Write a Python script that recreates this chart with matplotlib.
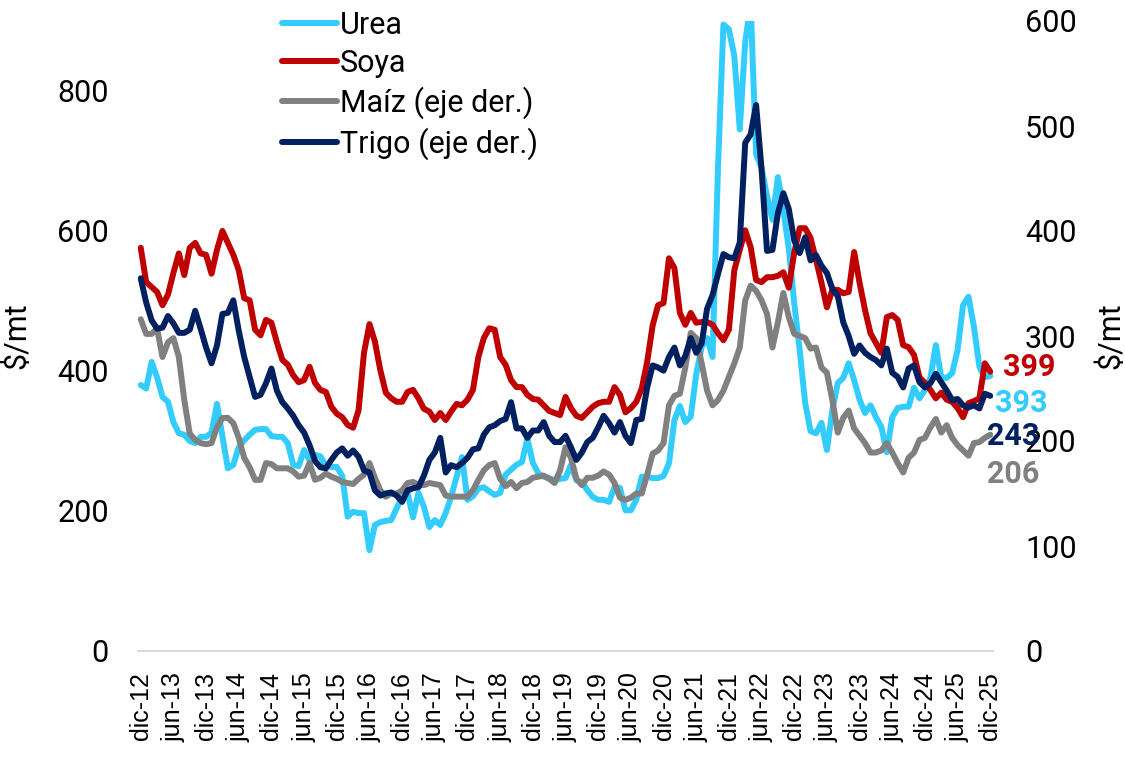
import numpy as np
import matplotlib
matplotlib.use('Agg')
import matplotlib.pyplot as plt

plt.rcParams['font.family'] = ['Roboto', 'DejaVu Sans']

# ── datos mensuales dic-12 .. dic-25 (157 meses) ──────────────
urea = [380, 375, 413, 391, 363, 356, 327, 311, 309, 300, 297, 306, 306, 312, 353, 307,
        261, 266, 291, 301, 309, 316, 317, 317, 307, 306, 306, 297, 266, 264, 287, 272,
        280, 278, 265, 263, 263, 250, 192, 199, 197, 197, 144, 180, 184, 186, 187, 204,
        220, 226, 191, 226, 206, 177, 187, 180, 197, 220, 249, 277, 216, 221, 232, 234,
        228, 223, 226, 252, 259, 266, 270, 303, 269, 254, 249, 247, 244, 246, 247, 266,
        244, 241, 230, 220, 216, 216, 213, 234, 233, 201, 201, 216, 249, 249, 247, 247,
        250, 268, 330, 350, 327, 335, 395, 434, 447, 420, 690, 895, 888, 850, 745, 870,
        925, 710, 690, 650, 616, 677, 630, 575, 497, 430, 355, 314, 311, 326, 287, 344,
        383, 390, 411, 387, 359, 340, 351, 334, 320, 284, 334, 347, 349, 349, 376, 361,
        373, 390, 437, 391, 390, 397, 430, 494, 506, 463, 406, 391, 393]

soya = [576, 527, 520, 513, 494, 509, 540, 568, 537, 576, 583, 568, 566, 539, 573, 600,
        583, 566, 544, 504, 501, 459, 451, 473, 469, 441, 416, 409, 394, 384, 387, 406,
        383, 373, 370, 349, 339, 334, 323, 319, 344, 426, 467, 442, 401, 369, 361, 356,
        356, 370, 373, 361, 346, 342, 330, 340, 330, 342, 353, 351, 359, 373, 420, 447,
        461, 459, 420, 409, 387, 377, 377, 366, 360, 359, 351, 343, 340, 337, 363, 347,
        336, 333, 341, 349, 354, 356, 356, 377, 366, 341, 347, 356, 375, 413, 465, 494,
        497, 561, 547, 483, 466, 483, 469, 470, 470, 466, 454, 444, 459, 544, 573, 601,
        577, 530, 527, 534, 534, 536, 541, 519, 569, 604, 604, 590, 559, 526, 491, 516,
        516, 511, 513, 570, 526, 487, 454, 440, 426, 477, 480, 473, 437, 434, 423, 391,
        383, 373, 361, 369, 359, 356, 347, 334, 354, 357, 361, 411, 399]

maiz = [316, 302, 302, 307, 280, 294, 298, 280, 239, 207, 201, 198, 197, 198, 213, 222,
        222, 217, 203, 184, 175, 163, 163, 179, 178, 174, 174, 174, 171, 166, 167, 179,
        163, 165, 169, 166, 164, 161, 160, 159, 164, 168, 179, 165, 153, 147, 150, 150,
        153, 160, 161, 158, 158, 160, 159, 158, 148, 147, 147, 147, 147, 153, 163, 172,
        177, 179, 164, 157, 161, 155, 160, 161, 165, 166, 167, 164, 160, 172, 194, 184,
        164, 158, 165, 165, 167, 171, 168, 160, 146, 144, 146, 150, 150, 168, 188, 191,
        198, 234, 243, 245, 270, 303, 298, 274, 248, 234, 239, 248, 261, 274, 289, 334,
        348, 343, 334, 321, 289, 313, 341, 318, 302, 300, 298, 288, 289, 270, 265, 239,
        208, 222, 229, 212, 205, 198, 189, 189, 191, 198, 189, 179, 170, 184, 189, 201,
        203, 213, 221, 208, 215, 203, 196, 191, 186, 198, 199, 203, 206]

trigo = [355, 332, 315, 307, 308, 319, 312, 303, 303, 306, 324, 307, 289, 274, 291, 321,
         322, 334, 305, 280, 261, 242, 244, 255, 269, 248, 237, 231, 224, 215, 208, 196,
         181, 175, 174, 182, 189, 193, 186, 191, 185, 172, 170, 153, 148, 150, 151, 148,
         142, 153, 155, 156, 167, 182, 189, 203, 170, 177, 175, 179, 184, 192, 193, 206,
         213, 215, 219, 221, 237, 212, 212, 203, 210, 210, 218, 205, 199, 199, 205, 194,
         182, 189, 199, 203, 213, 224, 217, 208, 218, 205, 198, 220, 221, 251, 272, 270,
         267, 280, 289, 272, 281, 298, 284, 293, 326, 339, 359, 378, 375, 374, 389, 484,
         492, 520, 459, 381, 382, 417, 436, 421, 391, 379, 394, 372, 377, 367, 360, 345,
         338, 313, 300, 283, 291, 284, 280, 277, 272, 288, 265, 261, 251, 269, 272, 256,
         251, 255, 264, 256, 248, 239, 240, 234, 232, 234, 231, 245, 243]

tick_labels = ['dic-12', 'jun-13', 'dic-13', 'jun-14', 'dic-14', 'jun-15', 'dic-15',
               'jun-16', 'dic-16', 'jun-17', 'dic-17', 'jun-18', 'dic-18', 'jun-19',
               'dic-19', 'jun-20', 'dic-20', 'jun-21', 'dic-21', 'jun-22', 'dic-22',
               'jun-23', 'dic-23', 'jun-24', 'dic-24', 'jun-25', 'dic-25']

C_UREA, C_SOYA, C_MAIZ, C_TRIGO = '#33CCFF', '#C00000', '#808080', '#002060'

x = np.arange(len(soya))

fig = plt.figure(figsize=(11.25, 7.61), dpi=100)
ax = fig.add_axes([138 / 1125, 110 / 761, 855 / 1125, 630 / 761])
ax2 = ax.twinx()

kw = dict(lw=4.3, solid_joinstyle='round', solid_capstyle='round')
l1, = ax.plot(x, urea, color=C_UREA, label='Urea', **kw)
l2, = ax.plot(x, soya, color=C_SOYA, label='Soya', **kw)
l3, = ax2.plot(x, maiz, color=C_MAIZ, label='Maíz (eje der.)', **kw)
l4, = ax2.plot(x, trigo, color=C_TRIGO, label='Trigo (eje der.)', **kw)

ax.set_xlim(-0.5, len(soya) - 0.5)
ax.set_ylim(0, 900)
ax2.set_ylim(0, 600)
ax.set_yticks([0, 200, 400, 600, 800])
ax2.set_yticks([0, 100, 200, 300, 400, 500, 600])
ax.set_xticks(np.arange(0, len(soya), 6))
ax.set_xticklabels(tick_labels, rotation=90, fontsize=18, family=['Liberation Sans', 'DejaVu Sans'])

for a in (ax, ax2):
    for s in a.spines.values():
        s.set_visible(False)
ax.spines['bottom'].set_visible(True)
ax.spines['bottom'].set_color('#D9D9D9')
ax.spines['bottom'].set_linewidth(1.5)

ax.tick_params(axis='y', length=0, labelsize=22, pad=21)
ax2.tick_params(axis='y', length=0, labelsize=22, pad=23)
ax.tick_params(axis='x', length=0, pad=15)
ax2.tick_params(axis='x', length=0)

ax.set_ylabel('$/mt', fontsize=22)
ax.yaxis.set_label_coords(-0.125, 0.5)
ax2.set_ylabel('$/mt', fontsize=22, rotation=90)
ax2.yaxis.set_label_coords(1.12, 0.5)

# etiquetas del último dato
last = len(soya) - 1
lab = dict(textcoords='offset pixels', fontsize=22, fontweight='bold', ha='left', va='center')
ax.annotate(f'{soya[-1]}', xy=(last, soya[-1]), xytext=(13, 5), color=C_SOYA, **lab)
ax.annotate(f'{urea[-1]}', xy=(last, urea[-1]), xytext=(5, -27), color=C_UREA, **lab)
ax2.annotate(f'{trigo[-1]}', xy=(last, trigo[-1]), xytext=(-3, -40), color=C_TRIGO, **lab)
ax2.annotate(f'{maiz[-1]}', xy=(last, maiz[-1]), xytext=(-3, -39), color=C_MAIZ, **lab)

fig.legend(handles=[l1, l2, l3, l4], loc='upper left',
           bbox_to_anchor=(282 / 1125, 1 - 11 / 761), frameon=False, fontsize=22,
           handlelength=1.8, handletextpad=0.1, labelspacing=0.28, borderpad=0,
           borderaxespad=0)

fig.savefig('out.png', dpi=100)
